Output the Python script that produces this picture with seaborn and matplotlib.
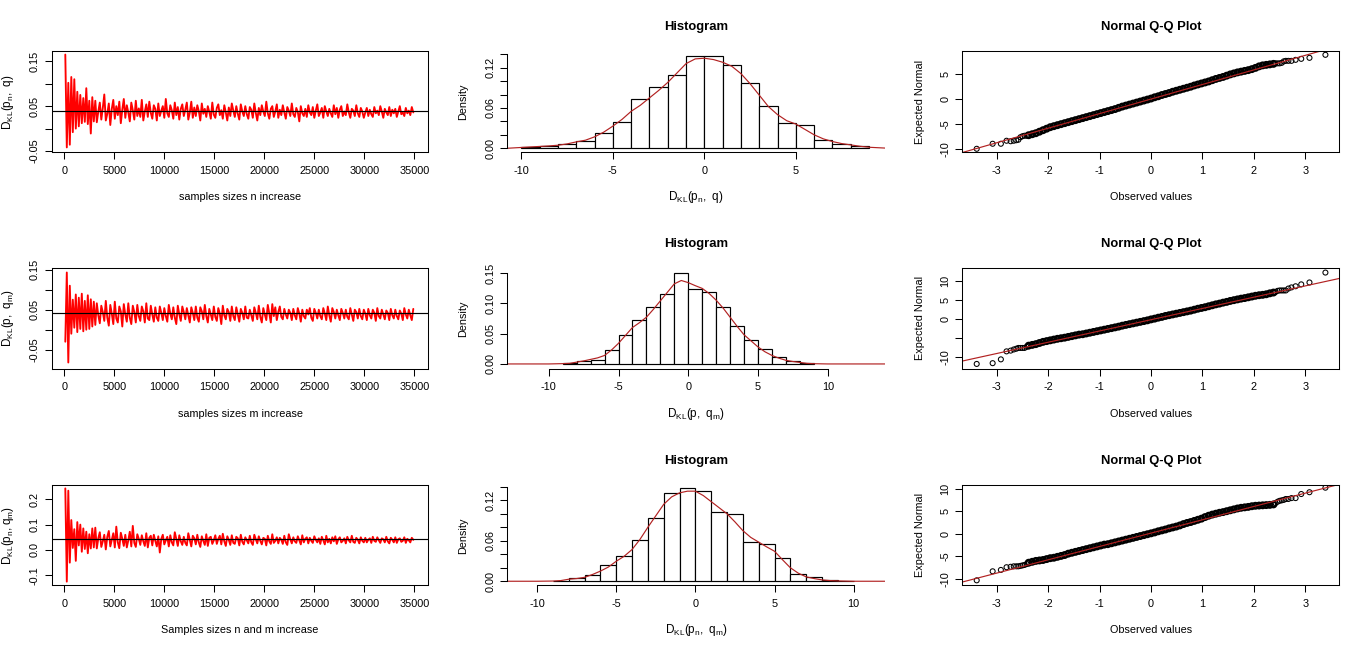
import numpy as np
import matplotlib
matplotlib.use('Agg')
import matplotlib.pyplot as plt
import seaborn as sns

# sample sizes on the x axis of the left column
sizes = list(range(100, 35001, 150))

# left column, values, in thousandths
kl_pn_q = [
    165, -42, 102, -36, 115, -8, 110, 0, 82, 5, 75, 12, 68, 15, 90, 10, 62, -11, 70, 16,
    62, 14, 38, 58, 20, 46, 76, 18, 33, 56, 8, 44, 64, 22, 50, 30, 60, 12, 42, 66,
    24, 52, 36, 16, 58, 41, 20, 62, 28, 45, 26, 64, 18, 38, 54, 26, 60, 35, 22, 52,
    44, 18, 56, 28, 40, 50, 24, 66, 34, 26, 52, 41, 22, 58, 30, 48, 20, 44, 54, 28,
    42, 58, 20, 36, 60, 24, 47, 28, 52, 39, 18, 56, 33, 44, 26, 50, 37, 22, 58, 31,
    24, 46, 54, 30, 41, 22, 52, 36, 18, 47, 28, 56, 40, 26, 50, 33, 20, 54, 38, 28,
    50, 32, 22, 48, 42, 24, 56, 35, 18, 46, 30, 52, 38, 28, 60, 34, 22, 44, 50, 26,
    38, 54, 24, 42, 30, 52, 36, 22, 48, 40, 28, 56, 32, 26, 46, 37, 16, 50, 34, 28,
    44, 26, 52, 36, 30, 48, 24, 40, 54, 28, 36, 46, 24, 50, 38, 28, 44, 34, 26, 52,
    32, 46, 24, 42, 50, 28, 38, 30, 54, 36, 24, 44, 40, 28, 52, 34, 26, 46, 38, 24,
    36, 46, 28, 42, 32, 26, 48, 34, 40, 30, 50, 38, 24, 44, 36, 30, 48, 28, 42, 34,
    44, 26, 38, 50, 32, 36, 28, 46, 34, 40, 30, 48, 36]
kl_p_qm = [
    -30, 143, -82, 110, -10, 75, 5, 88, -6, 80, 2, 90, -4, 72, 0, 86, 2, 76, 8, 70,
    12, 66, 36, 16, 60, 44, 22, 72, 30, 10, 62, 40, 14, 70, 28, 18, 58, 46, 8, 64,
    38, 20, 66, 30, 14, 60, 44, 18, 62, 34, 22, 58, 46, 18, 66, 28, 24, 60, 38, 20,
    56, 30, 22, 58, 42, 24, 54, 34, 20, 62, 40, 26, 56, 30, 14, 60, 38, 22, 58, 44,
    26, 54, 36, 18, 56, 42, 24, 58, 30, 20, 56, 46, 26, 62, 34, 18, 52, 38, 24, 58,
    32, 22, 54, 40, 14, 60, 36, 26, 52, 44, 22, 58, 34, 24, 56, 38, 20, 52, 42, 26,
    58, 30, 28, 50, 36, 22, 56, 42, 26, 60, 32, 18, 54, 38, 24, 62, 40, 18, 64, 34,
    56, 24, 44, 58, 32, 26, 52, 38, 28, 50, 42, 24, 52, 36, 26, 54, 40, 20, 50, 34,
    28, 50, 38, 54, 30, 22, 52, 42, 28, 50, 34, 26, 54, 40, 24, 58, 36, 20, 54, 44,
    28, 50, 36, 24, 52, 42, 28, 50, 32, 26, 54, 38, 22, 50, 44, 28, 52, 34, 26, 50,
    40, 24, 52, 36, 28, 50, 42, 22, 54, 34, 28, 50, 38, 26, 48, 42, 24, 52, 36, 28,
    50, 34, 26, 48, 40, 24, 54, 38, 28, 50, 36, 24, 52]
kl_pn_qm = [
    243, -125, 234, -50, 118, 8, 82, -43, 110, 18, 100, -7, 85, 4, 72, -13, 62, 6, 85, 10,
    88, 6, 46, 70, 12, 34, 60, 2, 52, 75, 14, 40, 66, 10, 92, 30, 7, 68, 44, 16,
    60, 10, 38, 72, 14, 95, 28, 12, 62, 44, 20, 58, 34, 16, 66, 10, 48, 56, 18, 60,
    36, 14, 54, -10, 44, 60, 22, 38, 52, 14, 58, 30, 18, 70, 42, 16, 58, 34, 20, 52,
    28, 18, 66, 40, 14, 56, 46, 22, 60, 30, 12, 54, 36, 20, 62, 16, 48, 52, 24, 38,
    58, 24, 44, 56, 22, 64, 34, 16, 54, 40, 20, 58, 28, 24, 52, 46, 18, 60, 32, 22,
    50, 38, 26, 56, 30, 20, 60, 42, 26, 54, 36, 22, 48, 44, 18, 56, 34, 24, 62, 28,
    36, 50, 26, 48, 40, 24, 56, 30, 20, 62, 42, 26, 50, 34, 28, 54, 38, 22, 58, 30,
    44, 50, 26, 48, 36, 28, 54, 40, 30, 46, 24, 52, 38, 22, 56, 30, 44, 26, 50, 34,
    54, 24, 42, 50, 30, 36, 46, 26, 52, 38, 30, 56, 32, 28, 48, 40, 26, 50, 36, 30,
    48, 30, 40, 46, 28, 52, 36, 32, 50, 38, 28, 46, 42, 30, 52, 34, 26, 48, 40, 30,
    50, 28, 42, 46, 32, 36, 50, 28, 44, 38, 30, 48, 40]
kl_series = [kl_pn_q, kl_p_qm, kl_pn_qm]
kl_limit = [0.0403, 0.041, 0.042]
kl_xlabels = ['samples sizes n increase', 'samples sizes m increase', 'Samples sizes n and m increase']
kl_ylabels = [r'$D_{KL}(p_n,\ q)$', r'$D_{KL}(p,\ q_m)$', r'$D_{KL}(p_n,q_m)$']
kl_ylim = [(-0.0529, 0.1723), (-0.097, 0.1535), (-0.1395, 0.2553)]
kl_yticks = [[-0.05, 0, 0.05, 0.10, 0.15], [-0.05, 0, 0.05, 0.10, 0.15], [-0.1, 0, 0.1, 0.2]]
kl_yticklabels = [['-0.05', '', '0.05', '', '0.15'], ['-0.05', '', '0.05', '', '0.15'],
                  ['-0.1', '0.0', '0.1', '0.2']]

# middle column, histogram bars
hist_edges = [list(range(-10, 10)), list(range(-9, 10)), list(range(-9, 11))]
hist_heights = [
    [.0015, .004, .0064, .0104, .0223, .0387, .0729, .0907, .1086, .138,
     .1368, .1234, .0967, .0625, .0372, .0342, .0119, .006, .003],
    [.001, .005, .0065, .023, .0475, .072, .0933, .116, .15,
     .1227, .118, .0933, .0622, .0393, .0245, .0115, .005, .0016],
    [.001, .0044, .0089, .0237, .037, .0607, .0933, .1304, .1378,
     .1333, .1022, .0993, .0578, .0548, .034, .0104, .0059, .0015, .001]]
# density curves over the bars
half_units = [-8.5, -8, -7.5, -7, -6.5, -6, -5.5, -5, -4.5, -4, -3.5, -3, -2.5, -2, -1.5, -1, -.5, 0,
              .5, 1, 1.5, 2, 2.5, 3, 3.5, 4, 4.5, 5, 5.5, 6, 6.5, 7, 7.5, 8, 8.5, 9]
kde_x = [[-10.77, -10, -9.5, -9] + half_units + [9.87],
         [-12.97, -10, -9] + half_units + [10, 14.1],
         [-11.88, -10, -9] + half_units + [10, 11.98]]
kde_y = [
    [0, .0012, .002, .0027, .0035, .0045, .0065, .0095, .012, .017, .024, .033, .043, .055, .064,
     .075, .086, .098, .112, .126, .133, .134, .132, .128, .122, .111, .096, .079, .062, .05,
     .041, .036, .028, .02, .014, .01, .007, .005, .003, .0015, .0003],
    [0, 0, .0005, .001, .003, .005, .0075, .010, .014, .023, .034, .047, .06, .068, .077,
     .09, .104, .118, .132, .1375, .134, .129, .1245, .116, .105, .092, .077, .062, .048, .038,
     .028, .02, .014, .0095, .006, .004, .0025, .001, .0004, 0, 0],
    [0, 0, .0003, .001, .003, .004, .0058, .01, .015, .021, .0296, .037, .047, .062, .08,
     .097, .114, .125, .131, .1335, .1335, .127, .118, .109, .1, .088, .075, .065, .058, .051,
     .0445, .032, .02, .012, .0065, .004, .002, .001, .0005, 0, 0]]
hist_xlabels = [r'$D_{KL}(p_n,\ q)$', r'$D_{KL}(p,\ q_m)$', r'$D_{KL}(p_n,\ q_m)$']
hist_xlim = [(-10.77, 9.87), (-12.97, 14.1), (-11.88, 11.98)]
hist_ylim = [(-0.006, 0.1443), (-0.0075, 0.1576), (-0.006, 0.1422)]
hist_xticks = [[-10, -5, 0, 5], [-10, -5, 0, 5, 10], [-10, -5, 0, 5, 10]]
hist_yticks = [[0, .02, .04, .06, .08, .10, .12, .14], [0, .05, .10, .15], [0, .02, .04, .06, .08, .10, .12, .14]]
hist_yticklabels = [['0.00', '', '', '0.06', '', '', '0.12', ''], ['0.00', '0.05', '0.10', '0.15'],
                    ['0.00', '', '', '0.06', '', '', '0.12', '']]

# right column, normal scores shared by the three plots
qq_x = [-3.39, -3.08, -2.92, -2.81, -2.73, -2.67, -2.62, -2.58, -2.54, -2.50, -2.46, -2.42,
        -2.38, -2.31, -2.24, -2.17, -2.10, -2.03, -1.96, -1.89, -1.82, -1.75, -1.68, -1.61,
        -1.54, -1.47, -1.40, -1.33, -1.26, -1.19, -1.12, -1.05, -0.98, -0.91, -0.84, -0.77,
        -0.70, -0.63, -0.56, -0.49, -0.42, -0.35, -0.28, -0.21, -0.14, -0.07, 0.00, 0.07,
        0.14, 0.21, 0.28, 0.35, 0.42, 0.49, 0.56, 0.63, 0.70, 0.77, 0.84, 0.91, 0.98, 1.05,
        1.12, 1.19, 1.26, 1.33, 1.40, 1.47, 1.54, 1.61, 1.68, 1.75, 1.82, 1.89, 1.96, 2.03,
        2.10, 2.17, 2.24, 2.31, 2.38,
        2.42, 2.46, 2.50, 2.54, 2.58, 2.62, 2.67, 2.73, 2.81, 2.92, 3.08, 3.39]
qq_y = [
    [-9.9, -8.9, -8.9, -8.3, -8.4, -8.3, -8.2, -8.1, -7.6, -7.4, -7.3, -7.3,
     -7.2, -7.0, -6.8, -6.5, -6.2, -5.9, -5.6, -5.4, -5.2, -5.0,
     -4.8, -4.6, -4.4, -4.2, -4.0, -3.8, -3.6, -3.4, -3.2, -3.0,
     -2.8, -2.6, -2.4, -2.2, -2.0, -1.75, -1.5, -1.3, -1.1, -0.9,
     -0.7, -0.5, -0.3, -0.1, 0.1, 0.35, 0.55, 0.8, 1.0, 1.2,
     1.45, 1.65, 1.85, 2.05, 2.25, 2.45, 2.7, 2.9, 3.1, 3.3,
     3.5, 3.75, 4.0, 4.2, 4.4, 4.65, 4.9, 5.1, 5.3, 5.45,
     5.6, 5.75, 5.95, 6.2, 6.5, 6.7, 6.8, 6.9, 7.0,
     7.1, 7.1, 7.1, 7.2, 7.5, 7.6, 7.6, 7.6, 7.8, 8.0, 8.2, 8.8],
    [-11.7, -11.5, -10.5, -8.4, -8.2, -7.9, -7.7, -7.5, -7.5, -7.5, -7.5, -7.2,
     -6.9, -6.7, -6.5, -6.2, -5.9, -5.7, -5.5, -5.3, -5.1, -4.95,
     -4.8, -4.6, -4.4, -4.2, -4.0, -3.9, -3.7, -3.5, -3.3, -3.1,
     -2.9, -2.7, -2.5, -2.3, -2.1, -1.9, -1.65, -1.45, -1.25, -1.05,
     -0.85, -0.65, -0.45, -0.25, 0.0, 0.2, 0.45, 0.65, 0.9, 1.1,
     1.3, 1.5, 1.7, 1.9, 2.1, 2.3, 2.55, 2.8, 3.0, 3.2,
     3.45, 3.7, 3.95, 4.15, 4.4, 4.6, 4.85, 5.05, 5.25, 5.45,
     5.6, 5.8, 6.0, 6.2, 6.35, 6.45, 6.6, 6.85, 7.05,
     7.2, 7.5, 7.6, 7.6, 7.6, 7.6, 8.1, 8.4, 8.7, 9.2, 9.7, 12.3],
    [-10.3, -8.3, -8.0, -7.4, -7.3, -7.2, -7.2, -7.2, -7.1, -7.0, -6.9, -6.7,
     -6.4, -6.2, -6.0, -5.9, -5.8, -5.6, -5.4, -5.3, -5.1, -4.9,
     -4.7, -4.4, -4.2, -4.0, -3.8, -3.6, -3.4, -3.2, -3.0, -2.8,
     -2.6, -2.4, -2.3, -2.1, -1.9, -1.7, -1.5, -1.3, -1.1, -0.9,
     -0.7, -0.5, -0.3, -0.1, 0.1, 0.3, 0.55, 0.75, 0.95, 1.2,
     1.4, 1.6, 1.85, 2.15, 2.4, 2.6, 2.85, 3.1, 3.35, 3.7,
     4.0, 4.25, 4.45, 4.65, 4.8, 5.0, 5.2, 5.4, 5.6, 5.75,
     5.85, 5.95, 6.1, 6.2, 6.25, 6.3, 6.35, 6.4, 6.5,
     6.8, 7.1, 7.3, 7.4, 7.5, 7.7, 7.7, 7.9, 7.9, 8.8, 9.2, 10.2]]
qq_slope = [2.9, 2.96, 2.95]
qq_intercept = [0.0, -0.08, 0.15]
qq_ylim = [(-10.6, 9.5), (-12.9, 13.42), (-11.4, 10.73)]
qq_yticks = [[-10, -5, 0, 5], [-10, -5, 0, 5, 10], [-10, -5, 0, 5, 10]]
qq_yticklabels = [['-10', '-5', '0', '5'], ['-10', '', '0', '5', '10'], ['-10', '-5', '0', '5', '10']]

W, H = 1366, 650
TEXT_SIZE = 7.8
MATH_SIZE = 8.5
LINE = 0.75
DARK_RED = '#B22222'
col_left = [51.7, 507.3, 962.3]
col_right = [428.3, 885, 1339.3]
row_top = [51.3, 268.3, 485.3]
row_bottom = [152.3, 368.5, 585.3]
ylabel_px = [8, 463, 920]
xlabel_drop = 45
title_rise = 24

sns.set_theme(style='ticks', rc={
    'axes.linewidth': LINE, 'xtick.major.width': LINE, 'ytick.major.width': LINE,
    'xtick.major.size': 5, 'ytick.major.size': 5,
    'xtick.major.pad': 5, 'ytick.major.pad': 3.6,
    'xtick.labelsize': TEXT_SIZE, 'ytick.labelsize': TEXT_SIZE,
    'axes.labelsize': TEXT_SIZE, 'axes.titlesize': 9.4,
    'axes.unicode_minus': False,
    'text.color': 'black', 'axes.labelcolor': 'black',
    'xtick.color': 'black', 'ytick.color': 'black', 'axes.edgecolor': 'black',
    'mathtext.default': 'regular'})
plt.rcParams['font.family'] = ['Liberation Sans', 'DejaVu Sans']

fig = plt.figure(figsize=(W / 100, H / 100), dpi=100)


def make_axes(row, col):
    left, right = col_left[col], col_right[col]
    top, bottom = row_top[row], row_bottom[row]
    ax = fig.add_axes([left / W, 1 - bottom / H, (right - left) / W, (bottom - top) / H])
    return ax


def finish_axes(ax, row, col, xlabel, ylabel, title=None):
    left, right = col_left[col], col_right[col]
    height = row_bottom[row] - row_top[row]
    ax.set_xlabel(xlabel, va='center', fontsize=MATH_SIZE if '$' in xlabel else TEXT_SIZE)
    ax.set_ylabel(ylabel, va='center', fontsize=MATH_SIZE if '$' in ylabel else TEXT_SIZE)
    ax.xaxis.set_label_coords(0.5, -xlabel_drop / height)
    ax.yaxis.set_label_coords((ylabel_px[col] - left) / (right - left), 0.5)
    for t in ax.get_yticklabels():
        t.set_rotation(90)
        t.set_va('center')
    if title:
        ax.set_title(title, fontweight='bold', y=1 + title_rise / height, va='center', pad=0)


for row in range(3):
    # trace of the divergence against the sample size
    ax = make_axes(row, 0)
    trace = np.array(kl_series[row]) / 1000
    sns.lineplot(x=sizes, y=trace, estimator=None, sort=False, color='red', linewidth=1.35, ax=ax)
    ax.axhline(kl_limit[row], color='black', linewidth=LINE + 0.1)
    ax.set_xlim(-1260, 36400)
    ax.set_ylim(*kl_ylim[row])
    ax.set_xticks(range(0, 35001, 5000))
    ax.set_yticks(kl_yticks[row])
    ax.set_yticklabels(kl_yticklabels[row])
    finish_axes(ax, row, 0, kl_xlabels[row], kl_ylabels[row])

    # histogram with the density curve
    ax = make_axes(row, 1)
    edges = hist_edges[row]
    mids = [e + 0.5 for e in edges[:-1]]
    sns.histplot(x=mids, weights=hist_heights[row], bins=edges, color='white',
                 edgecolor='black', linewidth=LINE + 0.1, alpha=1, ax=ax)
    sns.lineplot(x=kde_x[row], y=kde_y[row], estimator=None, sort=False, color=DARK_RED,
                 linewidth=LINE + 0.1, ax=ax)
    ax.set_xlim(*hist_xlim[row])
    ax.set_ylim(*hist_ylim[row])
    ax.set_xticks(hist_xticks[row])
    ax.set_yticks(hist_yticks[row])
    ax.set_yticklabels(hist_yticklabels[row])
    sns.despine(ax=ax)
    ax.spines['left'].set_bounds(hist_yticks[row][0], hist_yticks[row][-1])
    ax.spines['bottom'].set_bounds(hist_xticks[row][0], hist_xticks[row][-1])
    finish_axes(ax, row, 1, hist_xlabels[row], 'Density', 'Histogram')

    # normal q-q plot, the middle points overlap into a solid band
    ax = make_axes(row, 2)
    for part, size, width in ((slice(0, 12), 13, 0.75), (slice(81, 93), 13, 0.75), (slice(12, 81), 16, 1.7)):
        sns.scatterplot(x=qq_x[part], y=qq_y[row][part], marker='o', s=size, facecolor='none',
                        edgecolor='black', linewidth=width, ax=ax)
    ax.axline((0, qq_intercept[row]), slope=qq_slope[row], color=DARK_RED, linewidth=LINE + 0.1)
    ax.set_xlim(-3.67, 3.66)
    ax.set_ylim(*qq_ylim[row])
    ax.set_xticks(range(-3, 4))
    ax.set_yticks(qq_yticks[row])
    ax.set_yticklabels(qq_yticklabels[row])
    finish_axes(ax, row, 2, 'Observed values', 'Expected Normal', 'Normal Q-Q Plot')

fig.savefig('out.png', dpi=100, facecolor='white')
